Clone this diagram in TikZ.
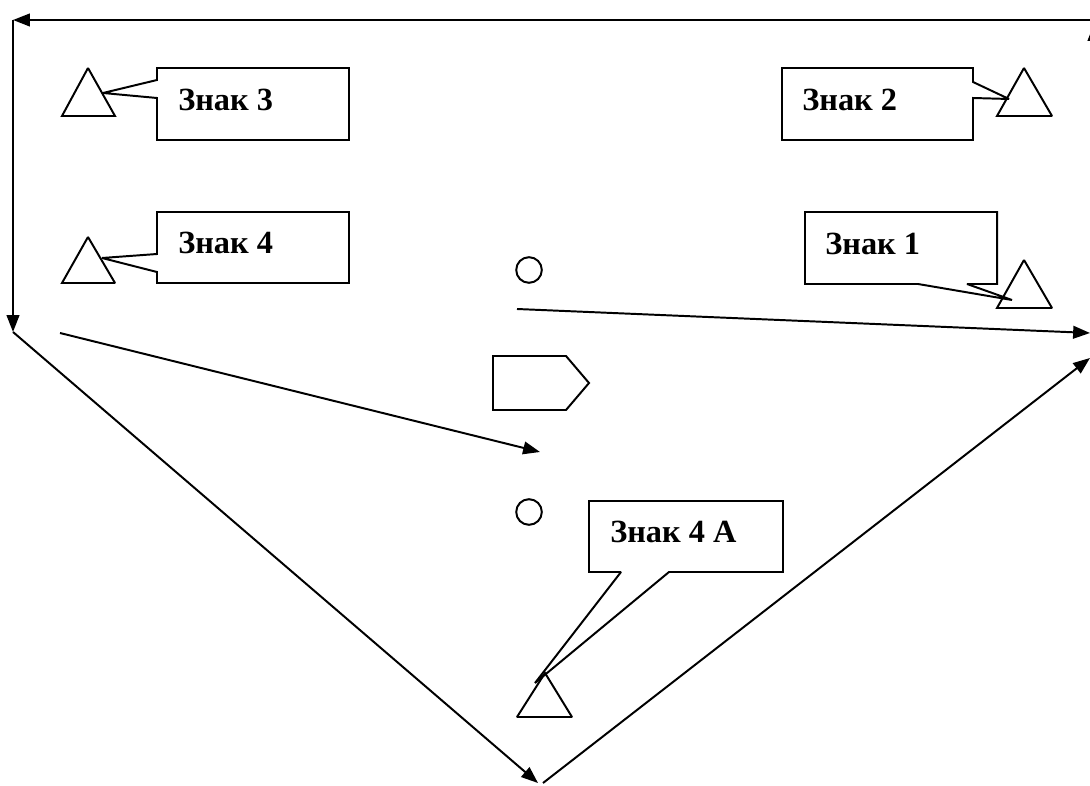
\documentclass[tikz,border=0pt]{standalone}
\usepackage{fontspec}
\setmainfont{Liberation Serif}
\usetikzlibrary{arrows.meta}

\tikzset{
  arr/.style={-{Triangle[length=12pt,width=9pt]}, line width=1.4pt},
  shp/.style={line width=1.4pt, line join=miter, miter limit=2},
  lbl/.style={font=\fontsize{23}{27}\selectfont\bfseries, anchor=west, inner sep=0pt}
}

\begin{document}
\begin{tikzpicture}[x=0.025cm, y=-0.025cm]
    \useasboundingbox (0,0) rectangle (1090,786);

% Corner points of the route
    \coordinate (TR) at (1090,20);
    \coordinate (TL) at (13,20);
    \coordinate (BL) at (13,332);
    \coordinate (Bot) at (538,783);
    \coordinate (BotS) at (543,783);
    \coordinate (R1) at (1090,333);
    \coordinate (R2) at (1090,358);
    \coordinate (RE) at (1094,330);
    \coordinate (RT) at (1094,24);
    \coordinate (S1) at (517,309);
    \coordinate (S2) at (60,333);
    \coordinate (M) at (540,452);

% Route arrows
    \draw[arr] (TR) -- (TL);
    \draw[arr] (TL) -- (BL);
    \draw[arr] (BL) -- (Bot);
    \draw[arr] (BotS) -- (R2);
    \draw[arr] (RE) -- (RT);
    \draw[arr] (S1) -- (R1);
    \draw[arr] (S2) -- (M);

% Sign 3
    % Triangle
    \draw[shp] (88,68) -- (115,116) -- (62,116) -- cycle;
    % Callout
    \draw[shp] (157,68) -- (349,68) -- (349,140) -- (157,140) -- (157,98)
        -- (103,93) -- (157,80) -- cycle;
    \node[lbl] (z3) at (178,100) {Знак 3};

% Sign 4
    % Triangle
    \draw[shp] (88,237) -- (115,283) -- (62,283) -- cycle;
    % Callout
    \draw[shp] (157,212) -- (349,212) -- (349,283) -- (157,283) -- (157,272)
        -- (102,258) -- (157,254) -- cycle;
    \node[lbl] (z4) at (178,243) {Знак 4};

% Sign 2
    % Triangle
    \draw[shp] (1024,68) -- (1052,116) -- (997,116) -- cycle;
    % Callout
    \draw[shp] (782,68) -- (973,68) -- (973,82) -- (1009,99) -- (973,98)
        -- (973,140) -- (782,140) -- cycle;
    \node[lbl] (z2) at (802,100) {Знак 2};

% Sign 1
    % Triangle
    \draw[shp] (1024,260) -- (1052,308) -- (997,308) -- cycle;
    % Callout
    \draw[shp] (805,212) -- (997,212) -- (997,284) -- (967,284) -- (1012,300)
        -- (918,284) -- (805,284) -- cycle;
    \node[lbl] (z1) at (825,244) {Знак 1};

% Sign 4 A
    % Triangle
    \draw[shp] (545,673) -- (572,717) -- (517,717) -- cycle;
    % Callout
    \draw[shp] (589,501) -- (783,501) -- (783,572) -- (669,572) -- (535,683)
        -- (621,572) -- (589,572) -- cycle;
    \node[lbl] (z4a) at (610,532) {Знак 4 А};

% Small marks in the middle
    \draw[shp] (529,270) circle (0.32cm);
    \draw[shp] (529,512) circle (0.32cm);
    \draw[shp] (493,356) -- (566,356) -- (589,383) -- (566,410) -- (493,410) -- cycle;

\end{tikzpicture}
\end{document}
